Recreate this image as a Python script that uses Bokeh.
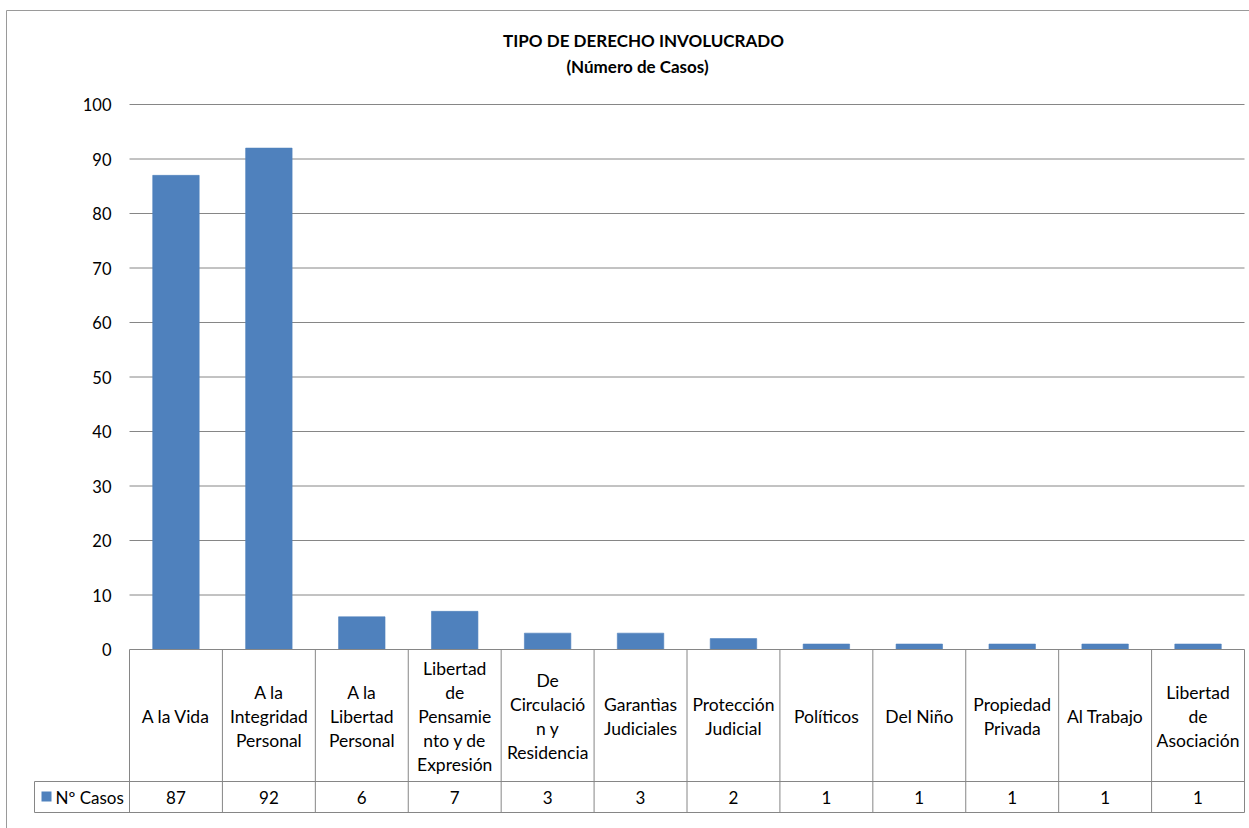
from bokeh.plotting import figure
from bokeh.models import Range1d, ColumnDataSource
from bokeh.core.properties import value
from bokeh.embed import file_html
from bokeh.resources import INLINE

# ---------------- data ----------------
categories = [
    "A la Vida", "A la Integridad Personal", "A la Libertad Personal",
    "Libertad de Pensamiento y de Expresión", "De Circulación y Residencia",
    "Garantìas Judiciales", "Protección Judicial", "Políticos", "Del Niño",
    "Propiedad Privada", "Al Trabajo", "Libertad de Asociación",
]
category_labels = [
    "A la Vida", "A la\nIntegridad\nPersonal", "A la\nLibertad\nPersonal",
    "Libertad\nde\nPensamie\nnto y de\nExpresión", "De\nCirculació\nn y\nResidencia",
    "Garantìas\nJudiciales", "Protección\nJudicial", "Políticos", "Del Niño",
    "Propiedad\nPrivada", "Al Trabajo", "Libertad\nde\nAsociación",
]
casos = [87, 92, 6, 7, 3, 3, 2, 1, 1, 1, 1, 1]
y_ticks = [0, 10, 20, 30, 40, 50, 60, 70, 80, 90, 100]
series_name = "Nº Casos"
title_lines = ["TIPO DE DERECHO INVOLUCRADO", "(Número de Casos)"]

# ---------------- layout (pixels) ----------------
W, H = 1249, 828
PLOT_L, PLOT_R = 129, 1244
PLOT_T, PLOT_B = 104, 649
ROW1_B, ROW2_B = 781, 812
HEAD_L = 34
FONT = "Lato"
BAR = "#4F81BD"
GRID = "#868686"

n = len(categories)
PX = (PLOT_R - PLOT_L) / n
YPX = (PLOT_B - PLOT_T) / 100.0


def dx(px):
    return (px - PLOT_L) / PX


def dy(py):
    return (PLOT_B - py) / YPX


p = figure(width=W, height=H, output_backend="svg", toolbar_location=None,
           x_range=Range1d(dx(0), dx(W)), y_range=Range1d(dy(H), dy(0)),
           min_border=0, min_border_left=0, min_border_right=0,
           min_border_top=0, min_border_bottom=0)
p.axis.visible = False
p.xgrid.visible = False
p.ygrid.visible = False
p.outline_line_color = None
p.background_fill_color = "white"
p.border_fill_color = "white"

# outer chart border
p.quad(left=[dx(6)], right=[dx(W + 20)], top=[dy(10)], bottom=[dy(H + 20)],
       fill_color=None, line_color="#9A9A9A", line_width=1)

# title
p.text(x=[dx(643), dx(637)], y=[dy(40), dy(66)], text=title_lines,
       text_font=value(FONT), text_font_style="bold", text_font_size="17px",
       text_align="center", text_baseline="middle", text_color="black")

# gridlines
grid_vals = [t for t in y_ticks if t > 0]
p.segment(x0=[0] * len(grid_vals), x1=[n] * len(grid_vals), y0=grid_vals, y1=grid_vals,
          line_color=GRID, line_width=1)

# y tick labels
p.text(x=[dx(111)] * len(y_ticks), y=y_ticks, text=[str(t) for t in y_ticks],
       text_font=value(FONT), text_font_size="16.5px", text_align="right",
       text_baseline="middle", text_color="black")

# bars
idx = list(range(n))
centers = [i + 0.5 for i in idx]
p.vbar(x=centers, width=0.5, top=casos, bottom=0, fill_color=BAR, line_color=BAR,
       line_alpha=0.6)

# data table lines
bottom_y = dy(ROW2_B)
p.segment(x0=idx + [n], x1=idx + [n], y0=[0] * (n + 1), y1=[bottom_y] * (n + 1),
          line_color=GRID, line_width=1)
p.segment(x0=[0, dx(HEAD_L), dx(HEAD_L)], x1=[n, n, n],
          y0=[0, dy(ROW1_B), dy(ROW2_B)], y1=[0, dy(ROW1_B), dy(ROW2_B)],
          line_color=GRID, line_width=1)
p.segment(x0=[dx(HEAD_L)], x1=[dx(HEAD_L)], y0=[dy(ROW1_B)], y1=[dy(ROW2_B)],
          line_color=GRID, line_width=1)

# category labels (multi-line)
LINE_H = 24
row1_mid = dy((PLOT_B + ROW1_B) / 2 + 0.5)
lx, ly, lt, lo = [], [], [], []
for i, lab in enumerate(category_labels):
    lines = lab.split("\n")
    k = len(lines)
    for j, ln in enumerate(lines):
        lx.append(i + 0.5)
        ly.append(row1_mid)
        lt.append(ln)
        lo.append((j - (k - 1) / 2) * LINE_H)
src = ColumnDataSource(dict(x=lx, y=ly, text=lt, yo=lo))
p.text(x="x", y="y", text="text", y_offset="yo", source=src,
       text_font=value(FONT), text_font_size="17.5px", text_align="center",
       text_baseline="middle", text_color="black")

# value row
row2_mid = dy((ROW1_B + ROW2_B) / 2)
p.text(x=centers, y=[row2_mid] * n, text=[str(v) for v in casos],
       text_font=value(FONT), text_font_size="17px", text_align="center",
       text_baseline="middle", text_color="black")

# legend key + series name in header cell
p.quad(left=[dx(41)], right=[dx(51)], top=[dy(791)], bottom=[dy(801)],
       fill_color=BAR, line_color=None)
p.text(x=[dx(55)], y=[row2_mid], text=[series_name],
       text_font=value(FONT), text_font_size="17px", text_align="left",
       text_baseline="middle", text_color="black")

open("out.html", "w").write(file_html(p, INLINE))
